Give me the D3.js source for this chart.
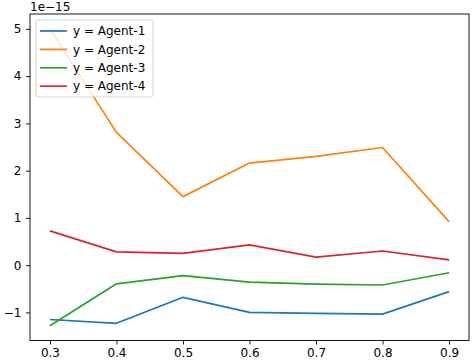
<!DOCTYPE html>
<html>
<head>
<meta charset="utf-8">
<script src="https://cdn.jsdelivr.net/npm/d3@7"></script>
<style>
  body { margin: 0; background: #fff; }
  svg { font-family: "DejaVu Sans", sans-serif; }
</style>
</head>
<body>
<div id="chart"></div>
<script>
// values are in units of 1e-15
const xs = [0.3, 0.4, 0.5, 0.6, 0.7, 0.8, 0.9];
const agent1 = [-1.15, -1.23, -0.68, -1.00, -1.02, -1.035, -0.56];
const agent2 = [5.0, 2.81, 1.45, 2.16, 2.30, 2.49, 0.92];
const agent3 = [-1.28, -0.395, -0.22, -0.36, -0.40, -0.42, -0.16];
const agent4 = [0.725, 0.28, 0.25, 0.43, 0.17, 0.30, 0.11];
const seriesNames = ["y = Agent-1", "y = Agent-2", "y = Agent-3", "y = Agent-4"];
const colors = ["#1f77b4", "#ff7f0e", "#2ca02c", "#d62728"];
const xTicks = [0.3, 0.4, 0.5, 0.6, 0.7, 0.8, 0.9];
const yTicks = [-1, 0, 1, 2, 3, 4, 5];

var width = 474
var height = 360
var margin = {left: 30, right: 5, top: 14, bottom: 19.5}
var fontSize = "12px"

var svg = d3.select("#chart")
  .append("svg")
    .attr("width", width)
    .attr("height", height)

var allSeries = [agent1, agent2, agent3, agent4];
var allY = allSeries.flat();
var yMin = d3.min(allY), yMax = d3.max(allY);
var yPad = (yMax - yMin) * 0.05;
var xPad = (d3.max(xs) - d3.min(xs)) * 0.05;

var x = d3.scaleLinear()
  .domain([d3.min(xs) - xPad, d3.max(xs) + xPad])
  .range([margin.left, width - margin.right]);
var y = d3.scaleLinear()
  .domain([yMin - yPad, yMax + yPad])
  .range([height - margin.bottom, margin.top]);

var fmtMinus = function(s) { return s.replace("-", "\u2212"); };

// axes
var xAxis = svg.append("g")
  .attr("transform", "translate(0," + (height - margin.bottom) + ")")
  .call(d3.axisBottom(x).tickValues(xTicks).tickSize(4).tickPadding(3.5).tickFormat(d3.format(".1f")));
var yAxis = svg.append("g")
  .attr("transform", "translate(" + margin.left + ",0)")
  .call(d3.axisLeft(y).tickValues(yTicks).tickSize(4).tickPadding(4.5).tickFormat(function(d) { return fmtMinus(String(d)); }));

[xAxis, yAxis].forEach(function(a) {
  a.select(".domain").remove();
  a.selectAll("line").attr("stroke", "#000").attr("stroke-width", 0.9);
  a.selectAll("text").attr("fill", "#000").style("font-size", fontSize).style("font-family", "DejaVu Sans");
});

// lines
var line = d3.line()
  .x(function(d, i) { return x(xs[i]); })
  .y(function(d) { return y(d); });

allSeries.forEach(function(s, i) {
  svg.append("path")
    .datum(s)
    .attr("fill", "none")
    .attr("stroke", colors[i])
    .attr("stroke-width", 1.7)
    .attr("stroke-linejoin", "round")
    .attr("d", line);
});

// frame
svg.append("rect")
  .attr("x", margin.left)
  .attr("y", margin.top)
  .attr("width", width - margin.left - margin.right)
  .attr("height", height - margin.top - margin.bottom)
  .attr("fill", "none")
  .attr("stroke", "#000")
  .attr("stroke-width", 0.9);

// offset text
svg.append("text")
  .attr("x", margin.left)
  .attr("y", 11)
  .style("font-size", fontSize)
  .text("1e\u221215");

// legend
var leg = svg.append("g").attr("transform", "translate(36,20)");
leg.append("rect")
  .attr("width", 117)
  .attr("height", 77)
  .attr("rx", 2)
  .attr("fill", "#fff")
  .attr("fill-opacity", 0.8)
  .attr("stroke", "#ccc")
  .attr("stroke-width", 0.9);

seriesNames.forEach(function(name, i) {
  var yy = 11 + i * 18.4;
  leg.append("line")
    .attr("x1", 4).attr("x2", 31)
    .attr("y1", yy).attr("y2", yy)
    .attr("stroke", colors[i])
    .attr("stroke-width", 1.7);
  leg.append("text")
    .attr("x", 37)
    .attr("y", yy)
    .attr("dy", "0.35em")
    .style("font-size", fontSize)
    .text(name);
});
</script>
</body>
</html>
